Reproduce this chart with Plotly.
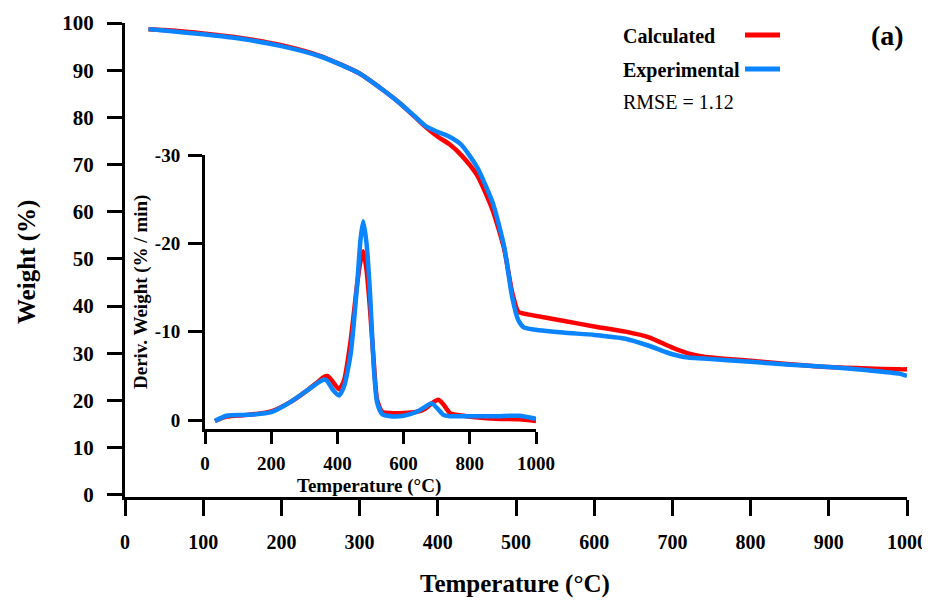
import plotly.graph_objects as go

# ---------------- data ----------------
temp_main = [30, 50, 100, 150, 200, 250, 300, 330, 350, 370, 385, 400, 415, 430, 450,
             470, 485, 495, 503, 510, 520, 560, 600, 640, 670, 700, 720, 740, 800, 850,
             900, 950, 990, 1000]
weight_calc = [98.7, 98.5, 97.8, 96.8, 95.3, 93.0, 89.3, 85.8, 83.2, 80.2, 77.9, 75.9, 74.3,
               72.0, 67.8, 60.4, 52.0, 43.0, 38.8, 38.4, 38.1, 36.9, 35.7, 34.6, 33.4, 31.2,
               30.0, 29.3, 28.4, 27.7, 27.1, 26.8, 26.6, 26.6]
weight_exp = [98.7, 98.4, 97.6, 96.6, 95.1, 92.9, 89.3, 85.8, 83.2, 80.3, 78.1, 76.9, 75.9,
              74.2, 69.5, 62.0, 52.5, 42.0, 37.0, 35.5, 35.1, 34.4, 33.9, 33.1, 31.6, 29.8,
              29.1, 28.9, 28.2, 27.6, 27.1, 26.4, 25.7, 25.2]

temp_dtg = [30, 65, 130, 200, 260, 310, 340, 360, 370, 385, 405, 420, 440, 460, 470, 478,
            488, 498, 510, 520, 535, 560, 600, 640, 665, 685, 705, 720, 740, 780, 880, 950, 1000]
dtg_calc = [0.1, -0.4, -0.6, -1.0, -2.1, -3.4, -4.3, -4.9, -5.0, -4.4, -3.5, -4.5, -9.0,
            -15.5, -18.0, -19.1, -17.0, -12.8, -6.5, -2.3, -0.95, -0.8, -0.8, -0.95, -1.3,
            -1.9, -2.3, -1.8, -0.8, -0.5, -0.15, -0.1, 0.1]
dtg_exp = [0.1, -0.5, -0.6, -0.9, -2.1, -3.4, -4.2, -4.6, -4.4, -3.5, -2.8, -3.8, -7.5,
           -15.5, -20.5, -22.5, -20.0, -14.7, -6.0, -2.0, -0.7, -0.45, -0.5, -0.95, -1.5,
           -1.9, -1.2, -0.6, -0.45, -0.45, -0.45, -0.5, -0.15]

main_xticks = [0, 100, 200, 300, 400, 500, 600, 700, 800, 900, 1000]
main_yticks = [0, 10, 20, 30, 40, 50, 60, 70, 80, 90, 100]
inset_xticks = [0, 200, 400, 600, 800, 1000]
inset_yticks = [0, -10, -20, -30]
inset_yticktext = ["0", "-10", "-20", "-30"]

RED = "#ff0000"
BLUE = "#0a84ff"
FONT = "Liberation Serif"

# ---------------- layout helpers ----------------
W, H = 930, 601
OFF = 8  # page body margin of the html page
FIG_W, FIG_H = W - OFF, H - OFF
L, R, T, B = 125, 907, 23, 497


def px(x, y):
    return (x - L) / (R - L), (B - y) / (B - T)


fig = go.Figure()
line_style = dict(width=4.5, shape="spline", smoothing=0.6)
fig.add_trace(go.Scatter(x=temp_main, y=weight_calc, mode="lines", name="Calculated",
                         line=dict(color=RED, **line_style), xaxis="x", yaxis="y"))
fig.add_trace(go.Scatter(x=temp_main, y=weight_exp, mode="lines", name="Experimental",
                         line=dict(color=BLUE, **line_style), xaxis="x", yaxis="y"))
fig.add_trace(go.Scatter(x=temp_dtg, y=dtg_calc, mode="lines", name="Calculated DTG",
                         line=dict(color=RED, **line_style), xaxis="x2", yaxis="y2"))
fig.add_trace(go.Scatter(x=temp_dtg, y=dtg_exp, mode="lines", name="Experimental DTG",
                         line=dict(color=BLUE, **line_style), xaxis="x2", yaxis="y2"))

axis_common = dict(showline=True, linecolor="black", linewidth=3, ticks="outside",
                   tickcolor="black", tickwidth=3, showgrid=False, zeroline=False,
                   automargin=False)

ix0, iy0 = px(205, 429)
ix1, iy1 = px(536, 155)

fig.update_layout(
    width=FIG_W, height=FIG_H,
    margin=dict(l=L - OFF, r=W - R, t=T - OFF, b=FIG_H - (B - OFF), autoexpand=False),
    paper_bgcolor="white", plot_bgcolor="rgba(0,0,0,0)",
    showlegend=False,
    xaxis=dict(domain=[0, 1], range=[0, 1000], tickvals=main_xticks, ticklen=16,
               tickfont=dict(family=FONT, size=20, color="black", weight="bold"),
               ticklabelstandoff=9, **axis_common),
    yaxis=dict(domain=[0, 1], range=[-0.45, 100], tickvals=main_yticks, ticklen=15,
               tickfont=dict(family=FONT, size=21, color="black", weight="bold"),
               ticklabelstandoff=9, **axis_common),
    xaxis2=dict(domain=[ix0, ix1], anchor="y2", range=[0, 1000], tickvals=inset_xticks,
                ticklen=12, tickfont=dict(family=FONT, size=19, color="black", weight="bold"),
                ticklabelstandoff=3, **axis_common),
    yaxis2=dict(domain=[iy0, iy1], anchor="x2", range=[1.0, -30], tickvals=inset_yticks,
                ticktext=inset_yticktext, ticklen=14,
                tickfont=dict(family=FONT, size=19, color="black", weight="bold"),
                ticklabelstandoff=4, **axis_common),
)

annotations = []


def add_text(text, x, y, size, bold=True, angle=0, xanchor="center"):
    ax, ay = px(x, y)
    annotations.append(dict(text=text, x=ax, y=ay, xref="paper", yref="paper",
                            showarrow=False, xanchor=xanchor, yanchor="middle",
                            textangle=angle,
                            font=dict(family=FONT, size=size, color="black",
                                      weight="bold" if bold else "normal")))


add_text("Temperature (°C)", 515, 584, 25)
add_text("Weight (%)", 27, 262, 25, angle=-90)
add_text("Temperature (°C)", 369, 486, 19)
add_text("Deriv. Weight (% / min)", 141, 292, 19, angle=-90)
add_text("Calculated", 621, 36, 20, xanchor="left")
add_text("Experimental", 621, 70, 20, xanchor="left")
add_text("RMSE = 1.12", 621, 102, 20, bold=False, xanchor="left")
add_text("(a)", 887, 35, 28)
fig.update_layout(annotations=annotations)

shapes = []
for yy, col in [(35, RED), (69, BLUE)]:
    x0, y0 = px(745, yy)
    x1, _ = px(780, yy)
    shapes.append(dict(type="line", xref="paper", yref="paper", x0=x0, x1=x1, y0=y0, y1=y0,
                       line=dict(color=col, width=5)))
fig.update_layout(shapes=shapes)

fig.write_html("out.html")
